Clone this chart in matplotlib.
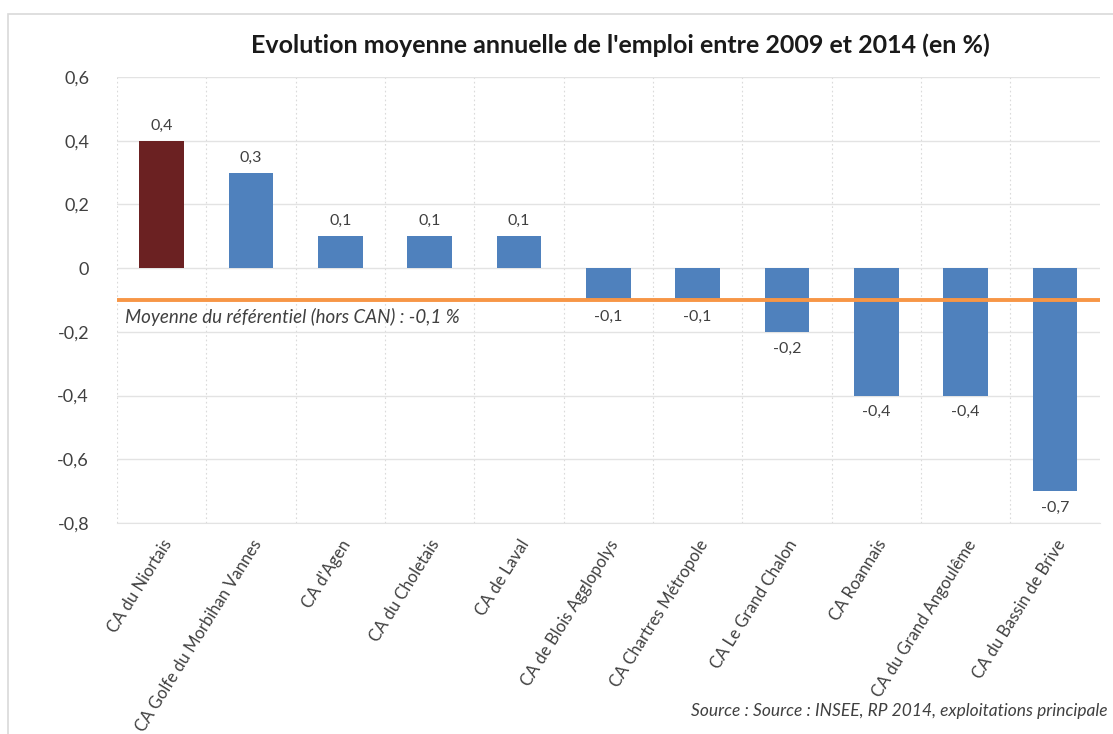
import matplotlib
matplotlib.use('Agg')
import matplotlib.pyplot as plt
from matplotlib.patches import Rectangle
from matplotlib.ticker import FuncFormatter

plt.rcParams['font.family'] = ['Lato', 'DejaVu Sans']

territoires = ['CA du Niortais', 'CA Golfe du Morbihan Vannes', "CA d'Agen", 'CA du Choletais',
               'CA de Laval', 'CA de Blois Agglopolys', 'CA Chartres Métropole', 'CA Le Grand Chalon',
               'CA Roannais', 'CA du Grand Angoulême', 'CA du Bassin de Brive']
evolution = [0.4, 0.3, 0.1, 0.1, 0.1, -0.1, -0.1, -0.2, -0.4, -0.4, -0.7]
moyenne = -0.1

couleurs = ['#6B2122'] + ['#4F81BD'] * (len(territoires) - 1)

fig = plt.figure(figsize=(11.13, 7.34), dpi=100)
ax = fig.add_axes([0.105, 0.2875, 0.883, 0.6075])

# cadre gris autour du graphique
fig.patches.append(Rectangle((8 / 1113, -0.05), 1.2, 1 - 14 / 734 + 0.05,
                             transform=fig.transFigure, fill=False,
                             edgecolor='#D9D9D9', linewidth=1.2))

x = range(len(territoires))
ax.bar(x, evolution, width=0.5, color=couleurs, zorder=3)

for i, v in enumerate(evolution):
    txt = f'{v:.1f}'.replace('.', ',')
    if v >= 0:
        ax.text(i, v + 0.025, txt, ha='center', va='bottom', fontsize=11.5, color='#404040')
    else:
        ax.text(i, v - 0.03, txt, ha='center', va='top', fontsize=11.5, color='#404040')

ax.axhline(moyenne, color='#F79646', linewidth=2.8, zorder=4)
ax.text(0.008, moyenne - 0.025, 'Moyenne du référentiel (hors CAN) : -0,1 %',
        transform=ax.get_yaxis_transform(), ha='left', va='top',
        fontsize=13.5, style='italic', color='#404040', zorder=5)

ax.set_xlim(-0.5, len(territoires) - 0.5)
ax.set_ylim(-0.8, 0.6)
ax.set_yticks([-0.8, -0.6, -0.4, -0.2, 0, 0.2, 0.4, 0.6])
ax.yaxis.set_major_formatter(FuncFormatter(lambda v, p: '0' if abs(v) < 1e-9 else f'{v:.1f}'.replace('.', ',')))
ax.tick_params(axis='y', length=0, labelsize=13, labelcolor='#404040', pad=20)

ax.set_xticks(list(x))
ax.set_xticklabels(territoires, rotation=58, ha='right', rotation_mode='anchor',
                   fontsize=12, color='#404040')
ax.tick_params(axis='x', length=0, pad=10)

# grille : horizontale pleine, verticale pointillée entre les catégories
ax.grid(axis='y', color='#E3E3E3', linewidth=1, zorder=0)
for b in range(len(territoires)):
    ax.axvline(b - 0.5, color='#DADADA', linewidth=0.8, linestyle=(0, (1.5, 2.5)), zorder=0)
for s in ['top', 'right', 'left']:
    ax.spines[s].set_visible(False)
ax.spines['bottom'].set_color('#E3E3E3')

fig.text(0.557, 0.922, "Evolution moyenne annuelle de l'emploi entre 2009 et 2014 (en %)",
         ha='center', va='bottom', fontsize=18, fontweight='bold', color='#1A1A1A')
fig.text(0.995, 0.02, 'Source : Source : INSEE, RP 2014, exploitations principale',
         ha='right', va='bottom', fontsize=12.5, style='italic', color='#404040')

fig.savefig('out.png', dpi=100)
